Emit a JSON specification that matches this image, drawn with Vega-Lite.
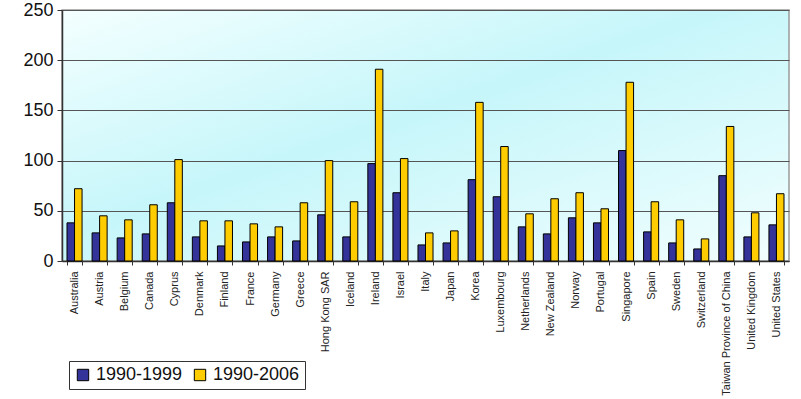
{
  "$schema": "https://vega.github.io/schema/vega-lite/v6.json",
  "autosize": "none",
  "width": 727,
  "height": 251,
  "padding": {"left": 62, "top": 10, "right": 12, "bottom": 138},
  "background": "white",
  "config": {
    "font": "Liberation Sans",
    "view": {"stroke": "#9a9a9a", "strokeWidth": 1.5, "fill": {"gradient": "linear", "x1": 0, "y1": 0, "x2": 1, "y2": 1, "stops": [{"offset": 0, "color": "#f4ffff"}, {"offset": 0.45, "color": "#c6f6fa"}, {"offset": 1, "color": "#f2fefe"}]}}
  },
  "data": {"values": [
    {"country": "Australia", "period": "1990-1999", "value": 38},
    {"country": "Australia", "period": "1990-2006", "value": 72},
    {"country": "Austria", "period": "1990-1999", "value": 28},
    {"country": "Austria", "period": "1990-2006", "value": 45},
    {"country": "Belgium", "period": "1990-1999", "value": 23},
    {"country": "Belgium", "period": "1990-2006", "value": 41},
    {"country": "Canada", "period": "1990-1999", "value": 27},
    {"country": "Canada", "period": "1990-2006", "value": 56},
    {"country": "Cyprus", "period": "1990-1999", "value": 58},
    {"country": "Cyprus", "period": "1990-2006", "value": 101},
    {"country": "Denmark", "period": "1990-1999", "value": 24},
    {"country": "Denmark", "period": "1990-2006", "value": 40},
    {"country": "Finland", "period": "1990-1999", "value": 15},
    {"country": "Finland", "period": "1990-2006", "value": 40},
    {"country": "France", "period": "1990-1999", "value": 19},
    {"country": "France", "period": "1990-2006", "value": 37},
    {"country": "Germany", "period": "1990-1999", "value": 24},
    {"country": "Germany", "period": "1990-2006", "value": 34},
    {"country": "Greece", "period": "1990-1999", "value": 20},
    {"country": "Greece", "period": "1990-2006", "value": 58},
    {"country": "Hong Kong SAR", "period": "1990-1999", "value": 46},
    {"country": "Hong Kong SAR", "period": "1990-2006", "value": 100},
    {"country": "Iceland", "period": "1990-1999", "value": 24},
    {"country": "Iceland", "period": "1990-2006", "value": 59},
    {"country": "Ireland", "period": "1990-1999", "value": 97},
    {"country": "Ireland", "period": "1990-2006", "value": 191},
    {"country": "Israel", "period": "1990-1999", "value": 68},
    {"country": "Israel", "period": "1990-2006", "value": 102},
    {"country": "Italy", "period": "1990-1999", "value": 16},
    {"country": "Italy", "period": "1990-2006", "value": 28},
    {"country": "Japan", "period": "1990-1999", "value": 18},
    {"country": "Japan", "period": "1990-2006", "value": 30},
    {"country": "Korea", "period": "1990-1999", "value": 81},
    {"country": "Korea", "period": "1990-2006", "value": 158},
    {"country": "Luxembourg", "period": "1990-1999", "value": 64},
    {"country": "Luxembourg", "period": "1990-2006", "value": 114},
    {"country": "Netherlands", "period": "1990-1999", "value": 34},
    {"country": "Netherlands", "period": "1990-2006", "value": 47},
    {"country": "New Zealand", "period": "1990-1999", "value": 27},
    {"country": "New Zealand", "period": "1990-2006", "value": 62},
    {"country": "Norway", "period": "1990-1999", "value": 43},
    {"country": "Norway", "period": "1990-2006", "value": 68},
    {"country": "Portugal", "period": "1990-1999", "value": 38},
    {"country": "Portugal", "period": "1990-2006", "value": 52},
    {"country": "Singapore", "period": "1990-1999", "value": 110},
    {"country": "Singapore", "period": "1990-2006", "value": 178},
    {"country": "Spain", "period": "1990-1999", "value": 29},
    {"country": "Spain", "period": "1990-2006", "value": 59},
    {"country": "Sweden", "period": "1990-1999", "value": 18},
    {"country": "Sweden", "period": "1990-2006", "value": 41},
    {"country": "Switzerland", "period": "1990-1999", "value": 12},
    {"country": "Switzerland", "period": "1990-2006", "value": 22},
    {"country": "Taiwan Province of China", "period": "1990-1999", "value": 85},
    {"country": "Taiwan Province of China", "period": "1990-2006", "value": 134},
    {"country": "United Kingdom", "period": "1990-1999", "value": 24},
    {"country": "United Kingdom", "period": "1990-2006", "value": 48},
    {"country": "United States", "period": "1990-1999", "value": 36},
    {"country": "United States", "period": "1990-2006", "value": 67}
  ]},
  "mark": {"type": "bar", "stroke": "black", "strokeWidth": 1},
  "encoding": {
    "x": {
      "field": "country", "type": "nominal", "sort": null, "title": null,
      "scale": {"paddingInner": 0.4, "paddingOuter": 0.2},
      "axis": {"labelAngle": -90, "labelFontSize": 11, "labelColor": "#222", "labelPadding": 6, "tickBand": "extent", "tickColor": "#333", "tickSize": 4, "domainColor": "#333", "domainWidth": 1.5, "grid": false}
    },
    "xOffset": {"field": "period", "type": "nominal"},
    "y": {
      "field": "value", "type": "quantitative", "title": null,
      "scale": {"domain": [0, 250]},
      "axis": {"values": [0, 50, 100, 150, 200, 250], "labelFontSize": 18, "labelColor": "#111", "labelPadding": 4, "tickSize": 5, "tickColor": "#333", "domainColor": "#333", "domainWidth": 1.5, "gridColor": "#555", "gridWidth": 1.2}
    },
    "color": {
      "field": "period", "type": "nominal",
      "scale": {"domain": ["1990-1999", "1990-2006"], "range": ["#333399", "#ffcc00"]},
      "legend": {"title": null, "orient": "none", "direction": "horizontal", "legendX": 7, "legendY": 351, "symbolType": "square", "symbolSize": 130, "symbolStrokeColor": "black", "symbolStrokeWidth": 1, "symbolOpacity": 1, "labelFontSize": 18, "labelColor": "#111", "strokeColor": "#333", "padding": 5, "columnPadding": 8, "fillColor": "white"}
    }
  }
}
